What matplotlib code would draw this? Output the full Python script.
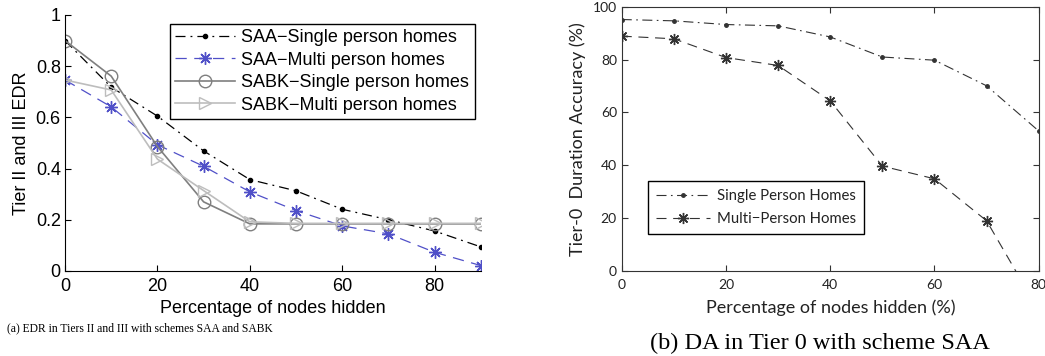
import numpy as np
import matplotlib.pyplot as plt

plt.rcParams['font.family'] = ['Liberation Sans', 'DejaVu Sans']

# left panel data
x_left = [0, 10, 20, 30, 40, 50, 60, 70, 80, 90]
saa_single = [0.90, 0.718, 0.605, 0.469, 0.357, 0.313, 0.241, 0.20, 0.156, 0.094]
saa_multi = [0.746, 0.641, 0.493, 0.409, 0.309, 0.236, 0.176, 0.145, 0.073, 0.021]
sabk_single = [0.90, 0.761, 0.486, 0.27, 0.184, 0.184, 0.184, 0.184, 0.184, 0.184]
sabk_multi = [0.746, 0.707, 0.437, 0.314, 0.192, 0.186, 0.186, 0.186, 0.186, 0.186]

# right panel data
x_right = [0, 10, 20, 30, 40, 50, 60, 70, 80]
da_single = [95.2, 94.7, 93.3, 92.8, 88.6, 81.0, 79.8, 70.1, 53.0]
da_multi = [88.9, 87.9, 80.8, 77.8, 64.4, 39.7, 34.9, 19.0, -15.0]

asterisk = (8, 2, 0)

fig = plt.figure(figsize=(10.45, 3.56), dpi=100)

# ---- (a)
ax1 = fig.add_axes([0.0622, 0.2388, 0.398, 0.7192])
ax1.plot(x_left, saa_single, color='black', marker='.', markersize=6, lw=0.9,
         dashes=(8, 4, 1.5, 4), label='SAA\u2212Single person homes')
ax1.plot(x_left, saa_multi, color='#5050c8', marker=asterisk, markersize=9, lw=0.9,
         dashes=(9, 6), label='SAA\u2212Multi person homes')
ax1.plot(x_left, sabk_single, '-', color='#7f7f7f', marker='o', markersize=9, lw=1.2,
         markerfacecolor='none', label='SABK\u2212Single person homes')
ax1.plot(x_left, sabk_multi, '-', color='#bdbdbd', marker='>', markersize=9, lw=1.2,
         markerfacecolor='none', label='SABK\u2212Multi person homes')
ax1.set_xlim(0, 90)
ax1.set_ylim(0, 1)
ax1.set_xticks([0, 20, 40, 60, 80])
ax1.set_yticks([0, 0.2, 0.4, 0.6, 0.8, 1])
ax1.set_yticklabels(['0', '0.2', '0.4', '0.6', '0.8', '1'])
ax1.spines['top'].set_visible(False)
ax1.spines['right'].set_visible(False)
ax1.tick_params(direction='in', labelsize=13, length=4)
ax1.tick_params(axis='x', pad=5)
ax1.tick_params(axis='y', pad=3)
ax1.set_xlabel('Percentage of nodes hidden', fontsize=13, labelpad=4)
ax1.set_ylabel('Tier II and III EDR', fontsize=13, labelpad=4)
leg = ax1.legend(loc='upper right', bbox_to_anchor=(0.985, 0.965), fontsize=13,
                 fancybox=False, edgecolor='black', framealpha=1, borderaxespad=0,
                 handlelength=3.3, borderpad=0.3, labelspacing=0.3, handletextpad=0.35)
leg.get_frame().set_linewidth(1.0)
fig.text(0.261, 0.078, '(a) EDR in Tiers II and III with schemes SAA and SABK',
         family='Liberation Serif', fontsize=8.4, ha='right', va='center')

# ---- (b)
gray = '#333333'
ax2 = fig.add_axes([0.595, 0.2388, 0.399, 0.742])
ax2.plot(x_right, da_single, color=gray, marker='.', markersize=5, lw=0.8,
         dashes=(9, 4, 1.5, 4), label='Single Person Homes')
ax2.plot(x_right, da_multi, color=gray, marker=asterisk, markersize=8, lw=0.8,
         dashes=(9, 6), label='Multi\u2212Person Homes')
ax2.set_xlim(0, 80)
ax2.set_ylim(0, 100)
ax2.set_xticks([0, 20, 40, 60, 80])
ax2.set_yticks([0, 20, 40, 60, 80, 100])
for sp in ax2.spines.values():
    sp.set_color(gray)
ax2.tick_params(direction='in', labelsize=10, length=4, colors=gray, top=True, right=True,
                labelcolor='#222222')
ax2.tick_params(axis='x', pad=6)
for t in ax2.get_xticklabels() + ax2.get_yticklabels():
    t.set_family(['Lato', 'DejaVu Sans'])
ax2.set_xlabel('Percentage of nodes hidden (%)', fontsize=13, family=['Lato', 'DejaVu Sans'],
               color='#222222', labelpad=6)
ax2.set_ylabel('Tier-0  Duration Accuracy (%)', fontsize=13, family=['Lato', 'DejaVu Sans'],
               color='#222222', labelpad=5)
leg2 = ax2.legend(loc='lower left', bbox_to_anchor=(0.063, 0.14), borderaxespad=0,
                  prop={'family': ['Lato', 'DejaVu Sans'], 'size': 10.7},
                  fancybox=False, edgecolor='black', framealpha=1,
                  handlelength=3.6, borderpad=0.55, labelspacing=0.6, handletextpad=0.5)
for t in leg2.get_texts():
    t.set_color('#222222')
fig.text(0.785, 0.035, '(b) DA in Tier 0 with scheme SAA',
         family='Liberation Serif', fontsize=17.5, ha='center', va='center')

fig.savefig('out.png', dpi=100)
